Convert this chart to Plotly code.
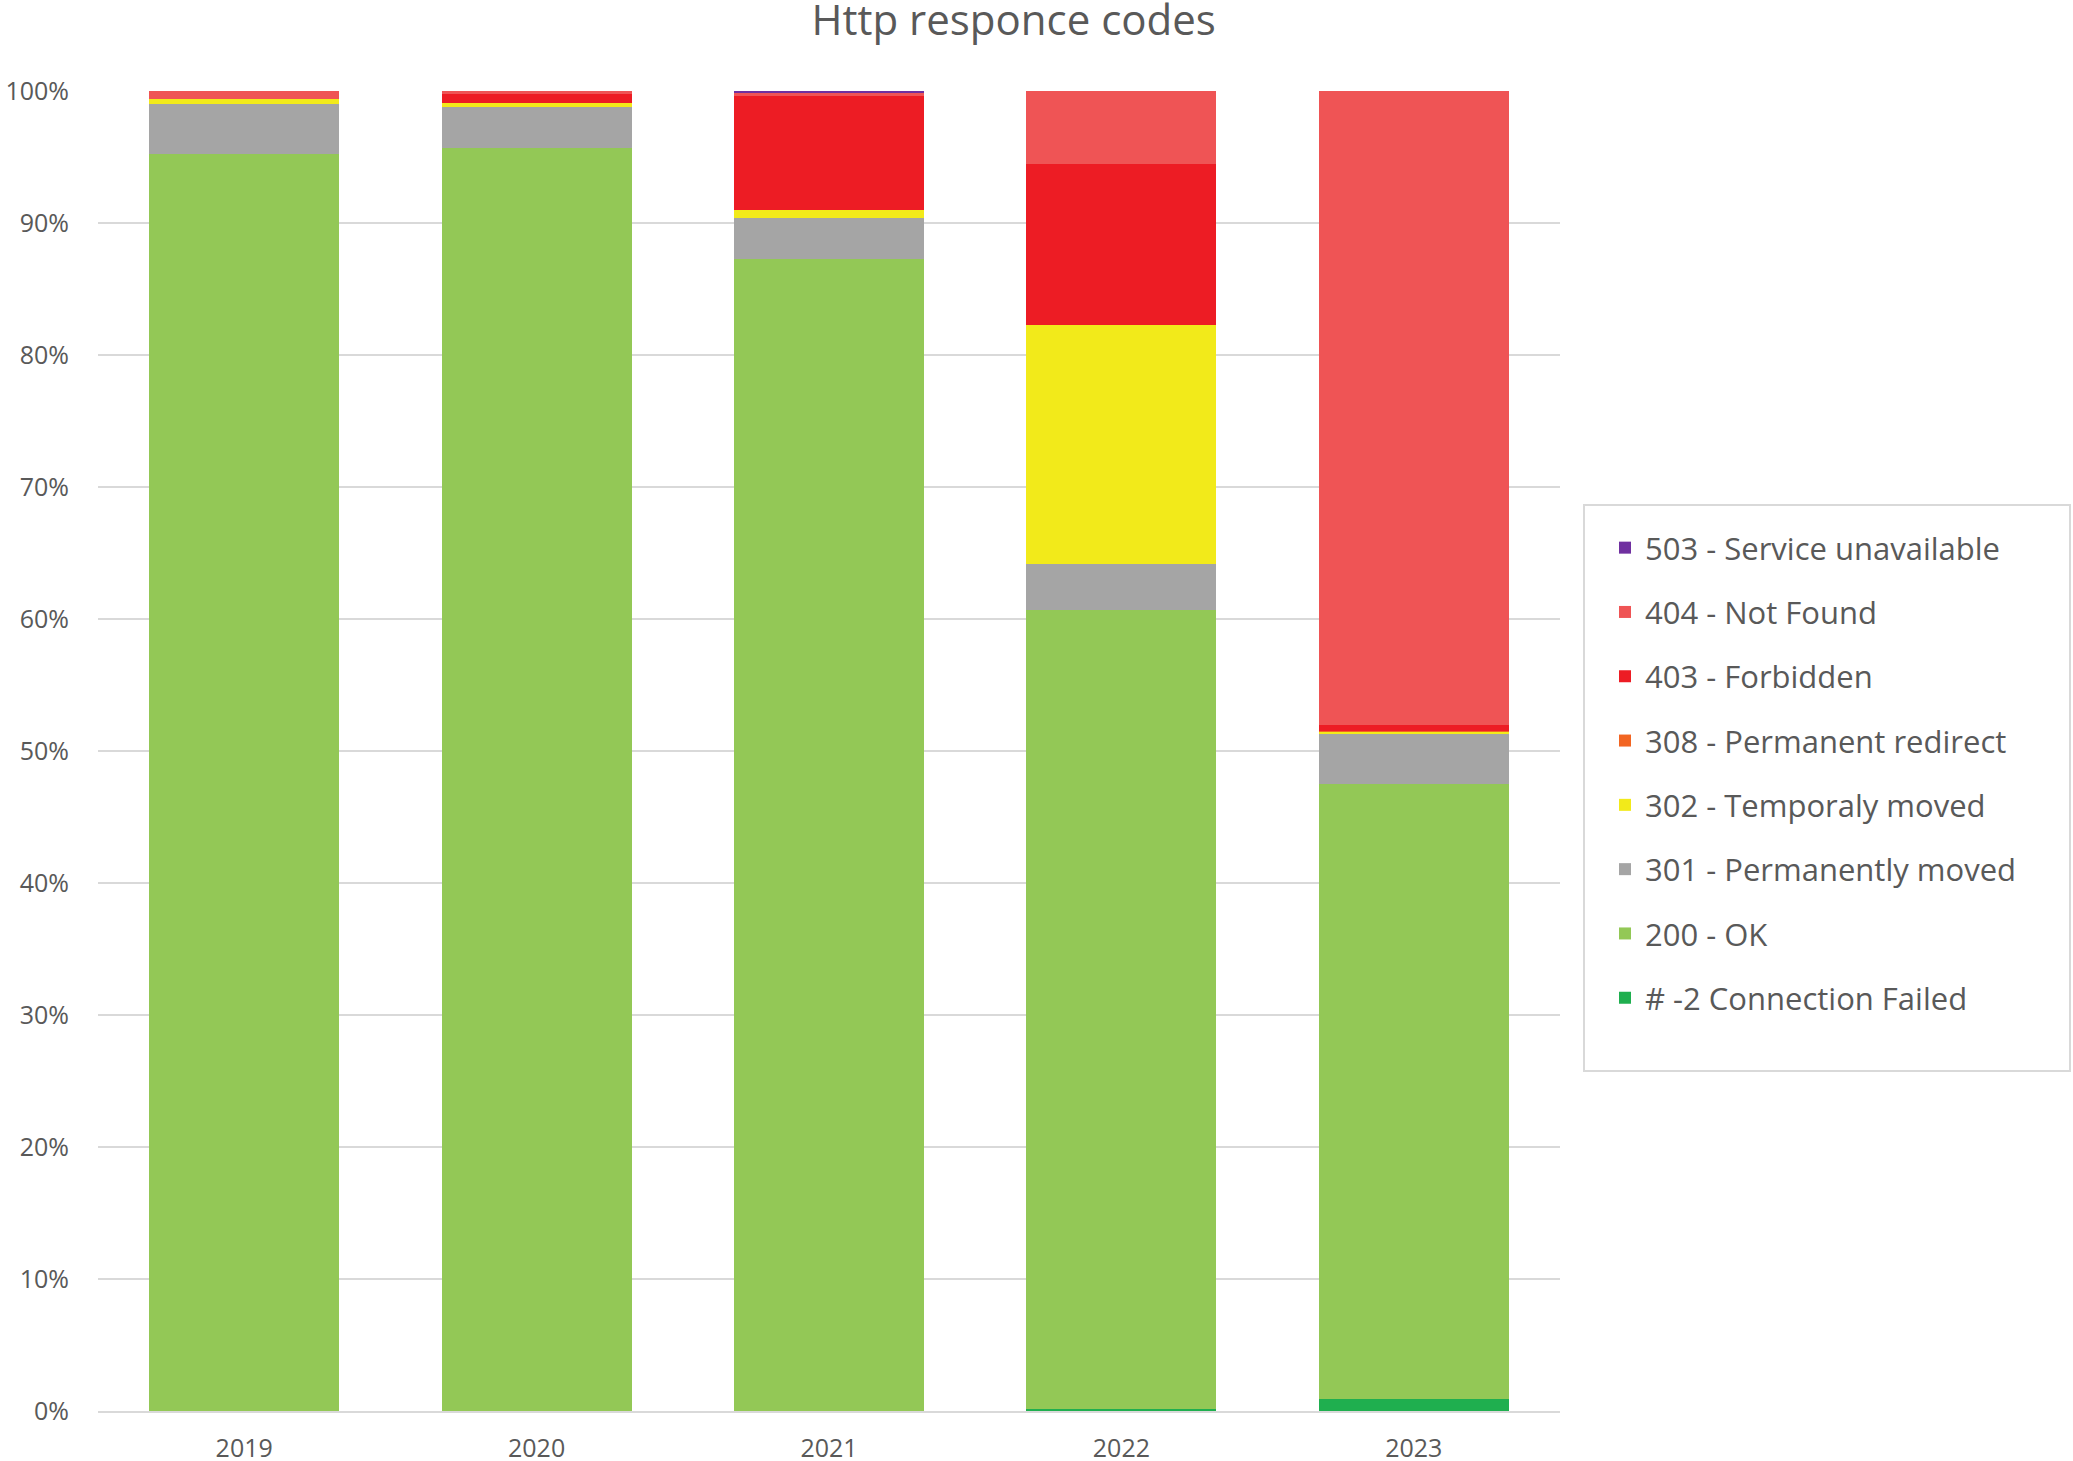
import plotly.graph_objects as go

years = ["2019", "2020", "2021", "2022", "2023"]

conn_failed = [0.0, 0.0, 0.0, 0.15, 0.9]
ok_200 = [95.2, 95.7, 87.3, 60.5, 46.6]
moved_301 = [3.8, 3.1, 3.1, 3.5, 3.85]
temp_302 = [0.4, 0.3, 0.55, 18.15, 0.1]
redirect_308 = [0.0, 0.0, 0.0, 0.0, 0.05]
forbidden_403 = [0.0, 0.65, 8.7, 12.2, 0.5]
notfound_404 = [0.6, 0.25, 0.2, 5.5, 48.0]
unavail_503 = [0.0, 0.0, 0.15, 0.0, 0.0]

series_names = [
    "# -2 Connection Failed",
    "200 - OK",
    "301 - Permanently moved",
    "302 - Temporaly moved",
    "308 - Permanent redirect",
    "403 - Forbidden",
    "404 - Not Found",
    "503 - Service unavailable",
]
series_values = [conn_failed, ok_200, moved_301, temp_302, redirect_308,
                 forbidden_403, notfound_404, unavail_503]
series_colors = ["#1FAF4F", "#93C856", "#A5A5A5", "#F2EA1A", "#F26522",
                 "#ED1C24", "#EF5455", "#7030A0"]

W, H = 2073, 1461
L, R, T, B = 98, 2073 - 1560, 91, 1461 - 1411
pw = W - L - R
ph = H - T - B


def px_to_paper_x(px):
    return (px - L) / pw


def px_to_paper_y(py):
    return (H - B - py) / ph


fig = go.Figure()
n = len(series_names)
for i, (name, vals, col) in enumerate(zip(series_names, series_values, series_colors)):
    fig.add_trace(go.Bar(
        x=years, y=vals, name=name, legendgroup=name,
        legendrank=(n - i) * 10,
        marker=dict(color=col, line=dict(width=0)),
    ))

fig.update_layout(
    width=W, height=H,
    barmode="stack",
    bargap=0.35,
    plot_bgcolor="white",
    paper_bgcolor="white",
    margin=dict(l=L, r=R, t=T, b=B, autoexpand=False),
    font=dict(family="Open Sans", color="#595959"),
    title=dict(
        text="Http responce codes",
        x=0.489, xanchor="center",
        y=1 - 20 / H, yanchor="middle",
        font=dict(size=42, color="#595959", family="Open Sans"),
    ),
    showlegend=True,
    legend=dict(
        x=px_to_paper_x(1605), xanchor="left",
        y=px_to_paper_y(521), yanchor="top",
        traceorder="grouped",
        tracegroupgap=21,
        font=dict(size=31, color="#595959", family="Open Sans"),
        bgcolor="rgba(0,0,0,0)",
        borderwidth=0,
    ),
    shapes=[dict(
        type="rect", xref="paper", yref="paper",
        x0=px_to_paper_x(1584), x1=px_to_paper_x(2070),
        y0=px_to_paper_y(1071), y1=px_to_paper_y(505),
        line=dict(color="#D9D9D9", width=2),
        fillcolor="rgba(0,0,0,0)",
        layer="below",
    )],
)

fig.update_xaxes(
    showgrid=False,
    showline=True, linecolor="#D9D9D9", linewidth=2,
    ticks="",
    tickfont=dict(size=25, color="#595959"),
    ticklabelstandoff=14,
    automargin=False,
)
fig.update_yaxes(
    range=[0, 100],
    dtick=10,
    ticksuffix="%",
    showgrid=True, gridcolor="#D9D9D9", gridwidth=2,
    zeroline=False,
    showline=False,
    ticks="",
    tickfont=dict(size=25, color="#595959"),
    ticklabelstandoff=28,
    automargin=False,
)

fig.write_html(
    "out.html",
    config={"displayModeBar": False},
    post_script="document.body.style.margin='0';document.body.style.overflow='hidden';",
)
